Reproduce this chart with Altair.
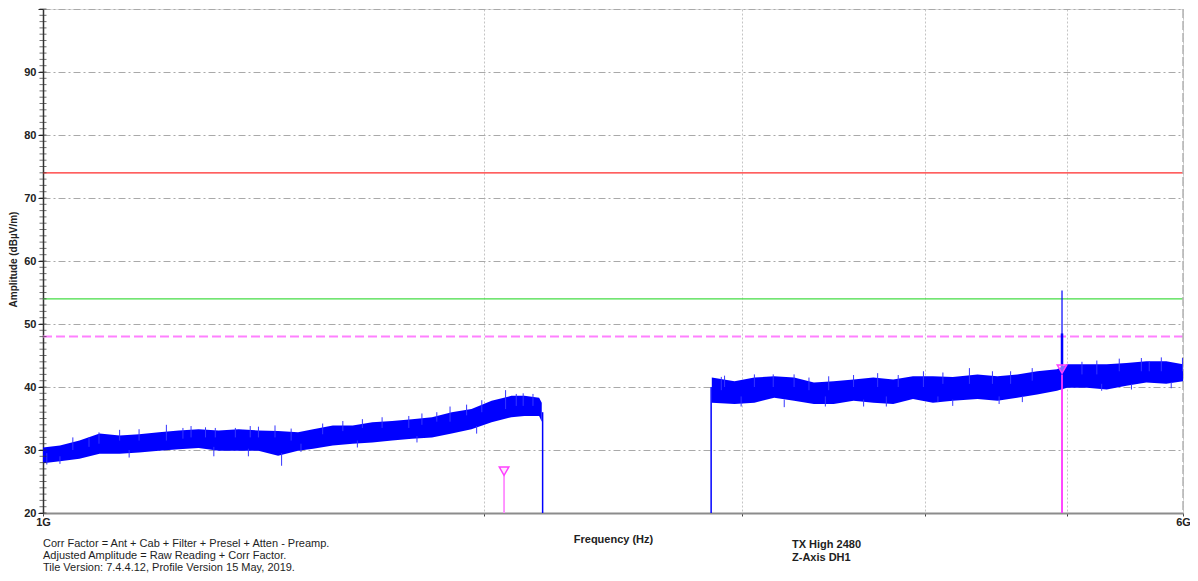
import altair as alt
import pandas as pd

FONT = "Liberation Sans"
BLUE = "#0000ff"

# ---- trace, segment 1 (1 GHz .. 2.19 GHz): frequency (GHz), lower / upper envelope (dBuV/m)
seg1_f = [1.000, 1.027, 1.059, 1.093, 1.128, 1.163, 1.200, 1.238, 1.277, 1.318, 1.360, 1.403,
          1.447, 1.493, 1.529, 1.577, 1.627, 1.678, 1.731, 1.786, 1.843, 1.901, 1.961, 2.024,
          2.088, 2.131, 2.181, 2.190]
seg1_hi = [30.4, 30.7, 31.5, 32.6, 32.3, 32.5, 32.8, 33.1, 33.3, 33.1, 33.3, 33.1,
           33.0, 32.8, 33.3, 33.9, 33.9, 34.4, 34.6, 34.9, 35.2, 36.0, 36.5, 37.8,
           38.6, 38.6, 38.3, 37.5]
seg1_lo = [27.9, 28.2, 28.6, 29.4, 29.4, 29.6, 29.9, 30.1, 30.3, 29.9, 29.9, 29.9,
           29.1, 29.9, 30.2, 30.7, 31.0, 31.2, 31.5, 31.8, 32.0, 32.6, 33.3, 34.4,
           35.2, 35.4, 35.4, 34.5]

# ---- trace, segment 2 (2.86 GHz .. 6 GHz)
seg2_f = [2.861, 2.965, 3.059, 3.156, 3.256, 3.359, 3.465, 3.575, 3.688, 3.805, 3.925, 4.050,
          4.178, 4.344, 4.482, 4.624, 4.771, 4.922, 5.000, 5.159, 5.322, 5.490, 5.664, 5.844,
          6.000]
seg2_hi = [41.5, 40.9, 41.5, 41.7, 41.5, 40.7, 40.9, 41.2, 41.5, 41.2, 41.7, 41.7,
           41.6, 42.0, 41.7, 42.0, 42.5, 42.8, 43.6, 43.6, 43.6, 43.8, 44.1, 44.1,
           43.6]
seg2_lo = [37.5, 37.3, 37.5, 38.3, 37.8, 37.3, 37.3, 37.8, 37.5, 37.3, 38.1, 37.5,
           37.8, 38.1, 37.8, 38.3, 38.8, 39.4, 39.9, 39.9, 39.6, 40.2, 40.7, 40.5,
           40.9]

# ---- individual noise spikes read (or estimated) from the trace
spike_f = [1.075, 1.092, 1.214, 1.246, 1.291, 1.311, 1.353, 1.440, 1.777, 1.896, 2.069, 2.127,
           2.904, 3.151, 3.438, 3.713, 3.990, 4.289, 4.576, 5.428, 5.690, 5.995,
           1.006, 1.308, 1.455, 1.500, 2.996, 3.420, 3.764, 4.494, 4.082, 5.280,
           1.048, 1.128, 1.163, 1.262, 1.385, 1.403, 1.477, 1.552, 1.602, 1.652, 1.704,
           1.814, 1.857, 1.946, 1.993, 2.104, 2.160,
           1.027, 1.145, 1.381, 1.639, 1.800, 1.977,
           2.919, 3.059, 3.256, 3.333, 3.575, 3.835, 4.114, 4.447, 4.734, 5.119, 5.240,
           5.620, 5.799,
           3.206, 3.632, 4.178, 4.661, 5.533, 5.890]
spike_lo = [30.5, 31.0, 31.5, 31.8, 32.0, 32.0, 32.0, 32.0, 33.5, 34.5, 36.5, 37.0,
            39.5, 40.0, 39.5, 40.0, 40.0, 40.5, 40.5, 42.5, 42.5, 42.5,
            27.7, 29.0, 27.5, 29.7, 36.9, 36.9, 36.9, 37.3, 37.6, 39.4,
            30.0, 31.5, 31.5, 32.0, 32.0, 32.0, 31.5, 32.5, 33.0, 33.5, 33.5,
            34.0, 34.5, 35.5, 36.0, 37.0, 37.0,
            27.8, 28.8, 29.0, 30.4, 31.2, 32.6,
            40.0, 40.0, 40.0, 39.5, 40.0, 40.0, 40.5, 40.5, 41.0, 42.0, 42.0,
            42.5, 42.5,
            36.8, 36.9, 37.0, 37.6, 39.6, 39.8]
spike_hi = [32.0, 32.8, 34.0, 33.5, 33.6, 33.5, 33.5, 33.9, 35.4, 36.9, 39.5, 39.0,
            41.6, 42.0, 41.7, 42.2, 42.5, 43.0, 42.5, 44.5, 44.1, 44.6,
            29.5, 30.5, 29.5, 31.0, 38.5, 38.5, 38.5, 38.5, 38.5, 40.5,
            32.0, 33.2, 33.3, 33.8, 33.8, 33.7, 33.4, 34.2, 34.6, 34.9, 35.2,
            35.8, 36.0, 37.2, 37.9, 38.9, 38.9,
            29.0, 30.0, 30.2, 31.5, 32.2, 33.8,
            41.8, 42.0, 42.0, 41.5, 41.9, 41.9, 42.3, 42.5, 43.0, 44.0, 44.2,
            44.6, 44.7,
            38.0, 38.0, 38.0, 38.6, 40.5, 40.8]

# ---- band edges (vertical drop / rise of the trace)
edge_f = [2.193, 2.858]
edge_lo = [20.0, 20.0]
edge_hi = [36.0, 40.0]

# ---- emission peak at the 2nd harmonic
peak_f = [4.961, 4.961]
peak_lo = [42.0, 42.0]
peak_hi = [48.5, 55.3]
peak_w = [2.5, 1.2]

# ---- markers
marker_f = [2.064, 4.961]
marker_amp = [26.0, 42.2]
marker_col = ["#ff8cff", "#ff33ff"]

# ---- limit lines
limit_v = [74, 54, 48]

# ---- axes
y_major = [20, 30, 40, 50, 60, 70, 80, 90, 100]
y_minor = list(range(20, 101))
x_ticks = [1, 2, 3, 4, 5, 6]

xs = alt.Scale(type="log", domain=[1, 6], nice=False)
ys = alt.Scale(domain=[20, 100], nice=False, zero=False)

x_axis = alt.Axis(
    values=x_ticks,
    labelExpr="(datum.value == 1 || datum.value == 6) ? datum.value + 'G' : ''",
    labelFont=FONT, labelFontSize=11, labelFontWeight="bold", labelColor="#222222",
    labelPadding=0, labelFlush=False, labelOverlap=False,
    tickSize=3, tickColor="#444444",
    domainColor="#8c8c8c", domainWidth=2,
    grid=True, gridColor="#c4c4c4", gridDash=[2, 2], gridWidth=1,
    title="Frequency (Hz)", titleFont=FONT, titleFontSize=11, titleFontWeight="bold",
    titleColor="#222222", titleBaseline="alphabetic", titleY=29,
)
y_axis = alt.Axis(
    values=y_major,
    labelExpr="datum.value < 100 ? datum.label : ''",
    labelFont=FONT, labelFontSize=11, labelFontWeight="bold", labelColor="#222222",
    labelPadding=2, tickSize=5, tickColor="#222222",
    domainColor="#333333", domainWidth=1.5,
    grid=True, gridColor="#a9a9a9", gridDash=[7, 3, 2, 3], gridWidth=1,
    title="Amplitude (dBµV/m)", titleFont=FONT, titleFontSize=10, titleFontWeight="bold",
    titleColor="#222222", titleX=-30, titleY=250, titleAngle=-90,
    titleAlign="center", titleBaseline="middle",
)


def X(f):
    return alt.X(f, type="quantitative", scale=xs, axis=x_axis)


def Y(f):
    return alt.Y(f, type="quantitative", scale=ys, axis=y_axis)


trace = pd.DataFrame({
    "f": seg1_f + seg2_f,
    "lo": seg1_lo + seg2_lo,
    "hi": seg1_hi + seg2_hi,
    "seg": ["a"] * len(seg1_f) + ["b"] * len(seg2_f),
})
spikes = pd.DataFrame({"f": spike_f, "lo": spike_lo, "hi": spike_hi})
edges = pd.DataFrame({"f": edge_f, "lo": edge_lo, "hi": edge_hi})
peak = pd.DataFrame({"f": peak_f, "lo": peak_lo, "hi": peak_hi, "w": peak_w})
markers = pd.DataFrame({"f": marker_f, "amp": marker_amp, "base": [20, 20], "col": marker_col})

layers = []

# limit lines
layers.append(alt.Chart(pd.DataFrame({"v": [limit_v[0]]})).mark_rule(color="#ff2a2a", strokeWidth=1.2)
              .encode(y=Y("v")))
layers.append(alt.Chart(pd.DataFrame({"v": [limit_v[1]]})).mark_rule(color="#44dd44", strokeWidth=1.2)
              .encode(y=Y("v")))
layers.append(alt.Chart(pd.DataFrame({"v": [limit_v[2]]})).mark_rule(color="#ff80ff", strokeWidth=2,
                                                                    strokeDash=[9, 4])
              .encode(y=Y("v")))

# right border
layers.append(alt.Chart(pd.DataFrame({"f": [6]})).mark_rule(color="#b4b4b4", strokeWidth=1.5,
                                                           strokeDash=[9, 3])
              .encode(x=X("f")))

# trace band
layers.append(alt.Chart(trace).mark_area(color=BLUE)
              .encode(x=X("f"), y=Y("lo"), y2="hi", detail="seg:N"))
# spikes
layers.append(alt.Chart(spikes).mark_rule(color="#3535ff", strokeWidth=1)
              .encode(x=X("f"), y=Y("lo"), y2="hi"))
# band edges
layers.append(alt.Chart(edges).mark_rule(color=BLUE, strokeWidth=1.5)
              .encode(x=X("f"), y=Y("lo"), y2="hi"))

# marker stems
layers.append(alt.Chart(markers).mark_rule(strokeWidth=1.8)
              .encode(x=X("f"), y=Y("base"), y2="amp",
                      color=alt.Color("col:N", scale=None)))
# peak spike
layers.append(alt.Chart(peak).mark_rule(color=BLUE)
              .encode(x=X("f"), y=Y("lo"), y2="hi",
                      strokeWidth=alt.StrokeWidth("w:Q", scale=None)))
# marker triangles
layers.append(alt.Chart(markers).mark_point(shape="triangle-down", size=90, filled=False,
                                            stroke="#ff40ff", strokeWidth=1.5,
                                            fill="#ffd6ff", fillOpacity=0.5, opacity=1,
                                            yOffset=-4)
              .encode(x=X("f"), y=Y("amp")))

# minor y ticks crossing the axis
layers.append(alt.Chart(pd.DataFrame({"v": y_minor})).mark_tick(orient="horizontal", size=7,
                                                               thickness=1, color="#333333")
              .encode(y=Y("v"), x=alt.value(0)))

# footer text
one = alt.Data(values=[{"k": 1}])


def txt(s, px, py, bold=False):
    return alt.Chart(one).mark_text(text=s, align="left", baseline="alphabetic", font=FONT,
                                    fontSize=11, fontWeight="bold" if bold else "normal",
                                    color="#1e1e1e").encode(x=alt.value(px), y=alt.value(py))


layers.append(txt("Corr Factor = Ant + Cab + Filter + Presel + Atten - Preamp.", 0, 538))
layers.append(txt("Adjusted Amplitude = Raw Reading + Corr Factor.", 0, 550))
layers.append(txt("Tile Version: 7.4.4.12, Profile Version 15 May, 2019.", 0, 562))
layers.append(txt("TX High 2480", 749, 539, bold=True))
layers.append(txt("Z-Axis DH1", 749, 552, bold=True))

chart = alt.layer(*layers).properties(
    width=1140, height=504,
    autosize=alt.AutoSizeParams(type="none"),
    padding={"left": 35, "top": 1, "right": 7, "bottom": 60},
).configure_view(stroke=None).configure(background="white")

chart.save("out.html", embed_options={"renderer": "svg", "actions": False})
